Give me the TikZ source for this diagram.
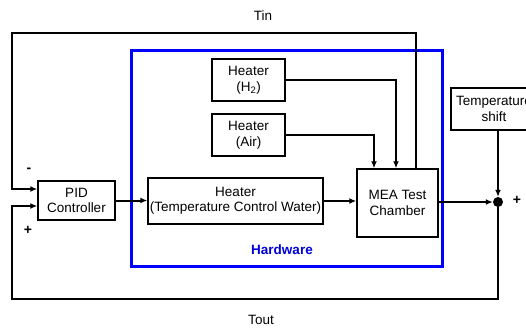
\documentclass[tikz,border=0pt]{standalone}
\usepackage{fontspec}
\setmainfont{Liberation Sans}
\usetikzlibrary{arrows.meta}
\begin{document}
\begin{tikzpicture}[x=1pt,y=-1pt,
  every node/.style={font=\fontsize{13.5}{15.5}\selectfont},
  blk/.style={draw,line width=1.5pt,rectangle,inner sep=0pt,align=center},
  conn/.style={line width=2pt,-{Latex[length=7pt,width=6pt]}},
  lbl/.style={inner sep=0pt}]
\useasboundingbox (0,0) rectangle (526,327);
% hardware frame
\draw[blue,line width=3pt] (131,50) rectangle (442,266);
\node[lbl,text=blue!85!black,font=\fontsize{13.5}{15}\selectfont\bfseries] (hw) at (282,250) {Hardware};
% blocks
\node[blk,minimum width=77pt,minimum height=39pt] (PID) at (76.5,200.5) {PID\\Controller};
\node[blk,minimum width=73pt,minimum height=42pt] (H2) at (248.5,80) {Heater\\(H\textsubscript{2})};
\node[blk,minimum width=73pt,minimum height=42pt] (Air) at (248.5,135) {Heater\\(Air)};
\node[blk,minimum width=175pt,minimum height=46pt] (TCW) at (235.5,201) {Heater\\(Temperature Control Water)};
\node[blk,minimum width=81pt,minimum height=68pt] (MEA) at (397.5,203) {MEA Test\\Chamber};
\node[blk,minimum width=86pt,minimum height=42pt] (TS) at (494,109) {Temperature\\shift};
\node[circle,fill=black,inner sep=0pt,minimum size=10pt] (dot) at (498,202) {};
% corner coordinates
\coordinate (tl) at (12,33);
\coordinate (bl) at (12,298.5);
% connectors
\draw[conn] (PID.east) -- (PID.east -| TCW.west);
\draw[conn] (TCW.east) -- (TCW.east -| MEA.west);
\draw[conn] (MEA.east |- dot) -- (dot.west);
\draw[conn] (dot |- TS.south) -- (dot.north);
\draw[conn] (H2.east) -| ([xshift=-1.5pt]MEA.north);
\draw[conn] (Air.east) -| ([xshift=-23.5pt]MEA.north);
\draw[conn] ([xshift=18.5pt]MEA.north) |- (tl) |- ([yshift=11.5pt]PID.west);
\draw[conn] (dot.south) |- (bl) |- ([yshift=-5.5pt]PID.west);
% labels
\node[lbl] (tin) at (263,16) {Tin};
\node[lbl] (tout) at (261,320) {Tout};
\node[lbl,font=\fontsize{14}{15}\selectfont\bfseries] (m) at (29,170) {-};
\node[lbl,font=\fontsize{14}{15}\selectfont\bfseries] (p1) at (28,230) {+};
\node[lbl,font=\fontsize{14}{15}\selectfont\bfseries] (p2) at (517,200) {+};
\end{tikzpicture}
\end{document}
